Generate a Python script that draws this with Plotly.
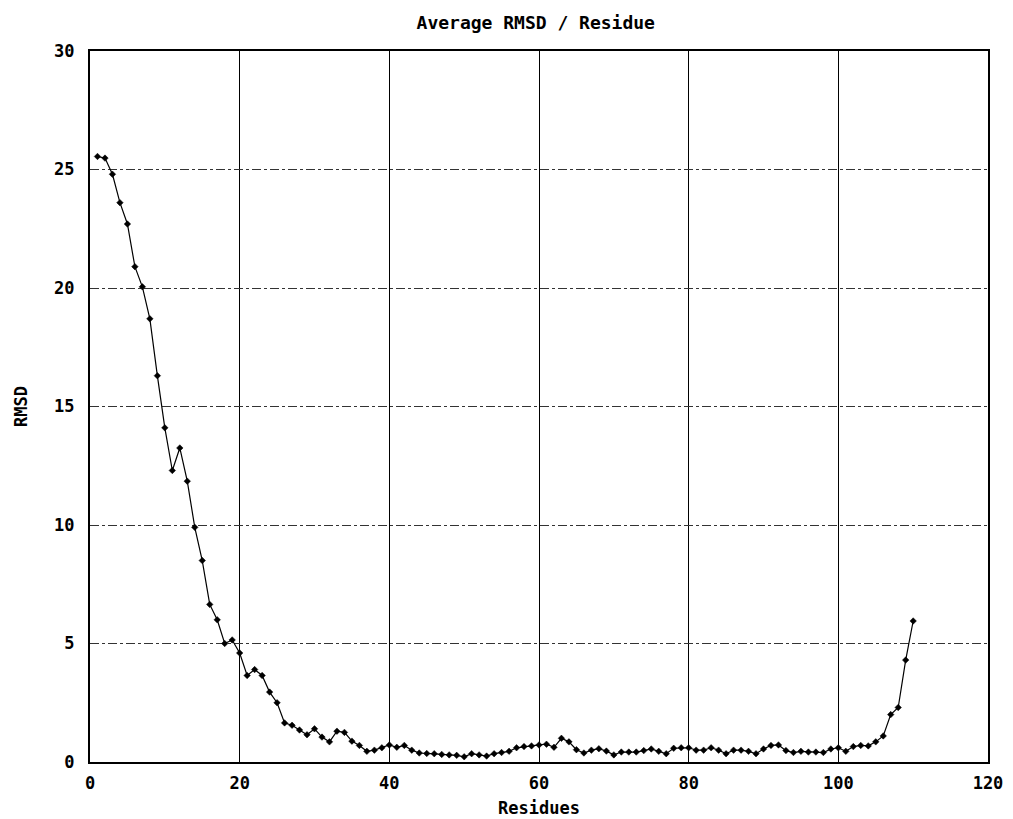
import plotly.graph_objects as go

residues = list(range(1, 111))
rmsd = [
    25.55, 25.48, 24.8, 23.6, 22.7, 20.9, 20.05, 18.7, 16.3, 14.1,
    12.3, 13.25, 11.85, 9.9, 8.5, 6.65, 6.0, 5.0, 5.15, 4.6,
    3.65, 3.9, 3.65, 2.95, 2.5, 1.65, 1.55, 1.35, 1.15, 1.4,
    1.05, 0.85, 1.3, 1.25, 0.88, 0.7, 0.45, 0.5, 0.6, 0.72,
    0.62, 0.7, 0.5, 0.38, 0.36, 0.35, 0.32, 0.3, 0.28, 0.22,
    0.35, 0.3, 0.25, 0.35, 0.4, 0.45, 0.6, 0.65, 0.68, 0.72,
    0.75, 0.62, 1.0, 0.85, 0.52, 0.38, 0.5, 0.56, 0.46, 0.3,
    0.42, 0.42, 0.42, 0.48, 0.55, 0.45, 0.35, 0.58, 0.6, 0.6,
    0.5, 0.5, 0.6, 0.5, 0.35, 0.5, 0.5, 0.45, 0.35, 0.55,
    0.7, 0.72, 0.48, 0.4, 0.45, 0.42, 0.42, 0.4, 0.55, 0.6,
    0.45, 0.65, 0.7, 0.68, 0.85, 1.1, 2.0, 2.3, 4.3, 5.95,
]
x_ticks = [0, 20, 40, 60, 80, 100, 120]
y_ticks = [0, 5, 10, 15, 20, 25, 30]

FONT = "DejaVu Sans Mono"
FS = 17

fig = go.Figure()
fig.add_trace(go.Scatter(
    x=residues, y=rmsd, mode="lines+markers",
    line=dict(color="black", width=1.2),
    marker=dict(symbol="diamond", size=5, color="black",
                line=dict(color="black", width=0.5)),
    showlegend=False,
))

fig.update_layout(
    width=1013, height=819,
    paper_bgcolor="white", plot_bgcolor="white",
    margin=dict(l=76, r=33, t=43, b=62),
    title=dict(text="Average RMSD / Residue", x=0.521, xanchor="center",
               y=0.982, yanchor="middle",
               font=dict(family=FONT, size=18, color="black", weight="bold")),
    font=dict(family=FONT, size=FS, color="black"),
)
fig.update_xaxes(
    range=[0, 120], tickvals=x_ticks, ticktext=[str(v) for v in x_ticks],
    showline=True, linecolor="black", linewidth=2, mirror=True,
    showgrid=True, gridcolor="black", gridwidth=1,
    zeroline=False, ticks="", ticklabelstandoff=5,
    tickfont=dict(family=FONT, size=FS, weight="bold"),
    title=dict(text="Residues", standoff=10,
               font=dict(family=FONT, size=FS, weight="bold")),
)
fig.update_yaxes(
    range=[0, 30], tickvals=y_ticks, ticktext=[str(v) for v in y_ticks],
    showline=True, linecolor="black", linewidth=2, mirror=True,
    showgrid=True, gridcolor="#333333", gridwidth=1, griddash="dashdot",
    zeroline=False, ticks="", ticklabelstandoff=10,
    tickfont=dict(family=FONT, size=FS, weight="bold"),
    title=dict(text="RMSD", standoff=22,
               font=dict(family=FONT, size=FS, weight="bold")),
)

fig.write_html("out.html")
